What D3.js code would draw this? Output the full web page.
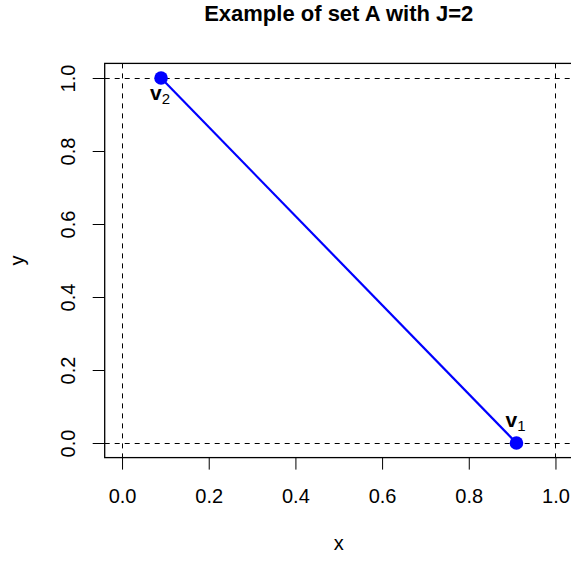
<!DOCTYPE html>
<html>
<head>
<meta charset="utf-8">
<script src="https://cdn.jsdelivr.net/npm/d3@7"></script>
<style>
  body { margin: 0; background: #fff; }
  svg { font-family: "Liberation Sans", Arial, sans-serif; }
</style>
</head>
<body>
<div id="chart-area"></div>
<script>
// data
const vertexNames = ["1", "2"]
const vertexX = [0.91, 0.09]
const vertexY = [0, 1]
const tickValues = [0, 0.2, 0.4, 0.6, 0.8, 1.0]
const refLines = [0, 1]

const W = 571, H = 562
const PLOT = { LEFT: 104.7, RIGHT: 572.8, TOP: 63.4, BOTTOM: 457.6 }

const svg = d3.select("#chart-area").append("svg")
  .attr("width", W)
  .attr("height", H)

const x = d3.scaleLinear().domain([-0.04, 1.04]).range([PLOT.LEFT, PLOT.RIGHT])
const y = d3.scaleLinear().domain([-0.04, 1.04]).range([PLOT.BOTTOM, PLOT.TOP])
// snap a 1px line to the pixel grid
const snap = v => Math.floor(v) + 0.5

// title
svg.append("text")
  .attr("x", (PLOT.LEFT + PLOT.RIGHT) / 2)
  .attr("y", 21)
  .attr("text-anchor", "middle")
  .attr("font-weight", "bold")
  .attr("font-size", 22)
  .text("Example of set A with J=2")

// bottom axis
const bottomAxis = d3.axisBottom(x)
  .tickValues(tickValues)
  .tickSize(12)
  .tickFormat(d3.format(".1f"))
const gx = svg.append("g")
  .attr("transform", `translate(0, ${PLOT.BOTTOM})`)
  .call(bottomAxis)
gx.select(".domain").remove()
gx.selectAll("line").attr("stroke", "#000")
gx.selectAll("text")
  .attr("y", 45)
  .attr("dy", 0)
  .attr("font-size", 20)
  .attr("font-family", "Liberation Sans, Arial, sans-serif")
  .attr("fill", "#000")

// left axis
const leftAxis = d3.axisLeft(y)
  .tickValues(tickValues)
  .tickSize(12)
  .tickFormat(d3.format(".1f"))
const gy = svg.append("g")
  .attr("transform", `translate(${PLOT.LEFT}, 0)`)
  .call(leftAxis)
gy.select(".domain").remove()
gy.selectAll("line").attr("stroke", "#000")
gy.selectAll("text")
  .attr("x", 0)
  .attr("dy", 0)
  .attr("text-anchor", "middle")
  .attr("transform", "translate(-30, 0) rotate(-90)")
  .attr("font-size", 20)
  .attr("font-family", "Liberation Sans, Arial, sans-serif")
  .attr("fill", "#000")

// axis labels
svg.append("text")
  .attr("x", (PLOT.LEFT + PLOT.RIGHT) / 2)
  .attr("y", 550)
  .attr("text-anchor", "middle")
  .attr("font-size", 20)
  .text("x")

svg.append("text")
  .attr("transform", `translate(24, ${(PLOT.TOP + PLOT.BOTTOM) / 2}) rotate(-90)`)
  .attr("text-anchor", "middle")
  .attr("font-size", 20)
  .text("y")

// clip to the plot region
svg.append("clipPath").attr("id", "plot-clip")
  .append("rect")
  .attr("x", PLOT.LEFT).attr("y", PLOT.TOP)
  .attr("width", PLOT.RIGHT - PLOT.LEFT)
  .attr("height", PLOT.BOTTOM - PLOT.TOP)

const g = svg.append("g").attr("clip-path", "url(#plot-clip)")

// dashed reference lines
g.selectAll(".vline").data(refLines).enter().append("line")
  .attr("x1", d => snap(x(d))).attr("x2", d => snap(x(d)))
  .attr("y1", PLOT.TOP).attr("y2", PLOT.BOTTOM)
  .attr("stroke", "#000")
  .attr("stroke-width", 1)
  .attr("stroke-dasharray", "5,5")
g.selectAll(".hline").data(refLines).enter().append("line")
  .attr("y1", d => snap(y(d))).attr("y2", d => snap(y(d)))
  .attr("x1", PLOT.LEFT).attr("x2", PLOT.RIGHT)
  .attr("stroke", "#000")
  .attr("stroke-width", 1)
  .attr("stroke-dasharray", "5,5")

// segment between the vertices
const pts = vertexX.map((vx, i) => ({ x: vx, y: vertexY[i], name: vertexNames[i] }))
g.append("path")
  .datum(pts)
  .attr("d", d3.line().x(d => x(d.x)).y(d => y(d.y)))
  .attr("fill", "none")
  .attr("stroke", "#0000ff")
  .attr("stroke-width", 2.2)

g.selectAll("circle").data(pts).enter().append("circle")
  .attr("cx", d => x(d.x))
  .attr("cy", d => y(d.y))
  .attr("r", 6.8)
  .attr("fill", "#0000ff")

// vertex labels: above for v1, below for v2
pts.forEach((d, i) => {
  const t = svg.append("text")
    .attr("x", x(d.x) - 1)
    .attr("y", i === 0 ? y(d.y) - 16 : y(d.y) + 22)
    .attr("text-anchor", "middle")
    .attr("font-size", 21)
  t.append("tspan").attr("font-weight", "bold").text("v")
  t.append("tspan").attr("font-size", 15).attr("dy", 4).text(d.name)
})

// box
svg.append("rect")
  .attr("x", PLOT.LEFT).attr("y", PLOT.TOP)
  .attr("width", PLOT.RIGHT - PLOT.LEFT)
  .attr("height", PLOT.BOTTOM - PLOT.TOP)
  .attr("fill", "none")
  .attr("stroke", "#000")
  .attr("stroke-width", 1.3)
</script>
</body>
</html>
